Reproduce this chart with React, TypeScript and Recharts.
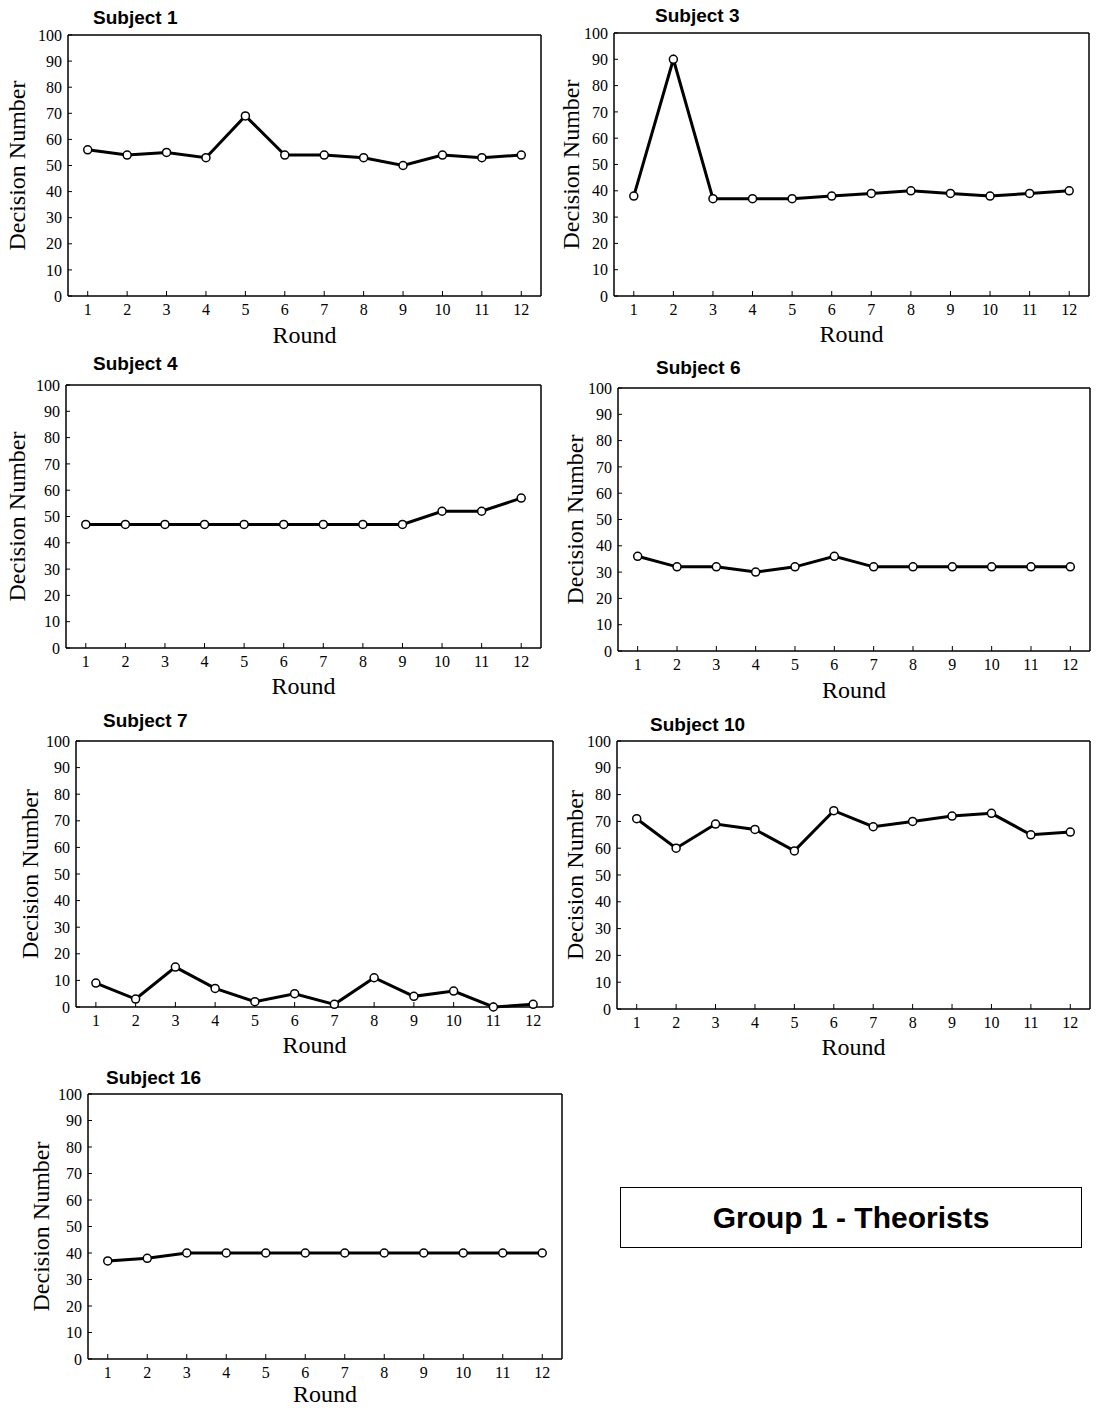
import { LineChart, Line, XAxis, YAxis, ReferenceLine, Label } from 'recharts'

const rounds = [1, 2, 3, 4, 5, 6, 7, 8, 9, 10, 11, 12]
const yTicks = [0, 10, 20, 30, 40, 50, 60, 70, 80, 90, 100]

const subject1 = [56, 54, 55, 53, 69, 54, 54, 53, 50, 54, 53, 54]
const subject3 = [38, 90, 37, 37, 37, 38, 39, 40, 39, 38, 39, 40]
const subject4 = [47, 47, 47, 47, 47, 47, 47, 47, 47, 52, 52, 57]
const subject6 = [36, 32, 32, 30, 32, 36, 32, 32, 32, 32, 32, 32]
const subject7 = [9, 3, 15, 7, 2, 5, 1, 11, 4, 6, 0, 1]
const subject10 = [71, 60, 69, 67, 59, 74, 68, 70, 72, 73, 65, 66]
const subject16 = [37, 38, 40, 40, 40, 40, 40, 40, 40, 40, 40, 40]

const serif = '"Liberation Serif", "Times New Roman", serif'
const sans = '"Liberation Sans", Arial, sans-serif'

// plot box = [left, top, right, bottom] in page pixels
const panels = [
  { title: 'Subject 1', values: subject1, box: [68, 35, 541, 296], titleAt: [93, 18], labelX: 17, roundDy: 39 },
  { title: 'Subject 3', values: subject3, box: [614, 33, 1089, 296], titleAt: [655, 16], labelX: 571, roundDy: 38 },
  { title: 'Subject 4', values: subject4, box: [66, 385, 541, 648], titleAt: [93, 364], labelX: 17, roundDy: 38 },
  { title: 'Subject 6', values: subject6, box: [618, 388, 1090, 651], titleAt: [656, 368], labelX: 575, roundDy: 39 },
  { title: 'Subject 7', values: subject7, box: [76, 741, 553, 1007], titleAt: [103, 721], labelX: 30, roundDy: 38 },
  { title: 'Subject 10', values: subject10, box: [617, 741, 1090, 1009], titleAt: [650, 725], labelX: 575, roundDy: 38 },
  { title: 'Subject 16', values: subject16, box: [88, 1094, 562, 1359], titleAt: [106, 1078], labelX: 41, roundDy: 35 },
]

const ML = 70, MT = 45, MR = 15, MB = 65

function Panel({ title, values, box, titleAt, labelX, roundDy }: any) {
  const [l, t, r, b] = box
  const w = r - l + ML + MR
  const h = b - t + MT + MB
  const left = l - ML
  const top = t - MT
  const data = rounds.map((round, i) => ({ round, value: values[i] }))
  const cy = MT + (b - t) / 2
  const lx = labelX - left
  return (
    <>
      <div style={{ position: 'absolute', left: titleAt[0], top: titleAt[1] - 12, fontFamily: sans, fontWeight: 700, fontSize: 19, lineHeight: '24px', color: '#000' }}>{title}</div>
      <div style={{ position: 'absolute', left, top }}>
        <LineChart width={w} height={h} data={data} margin={{ top: MT, right: MR, left: 20, bottom: 35 }}>
          <XAxis type="number" dataKey="round" domain={[0.5, 12.5]} ticks={rounds} interval={0} height={30}
            axisLine={{ stroke: '#000', strokeWidth: 1.5 }} tickLine={{ stroke: '#000' }} tickSize={-5} tickMargin={13}
            tick={{ fill: '#000', fontSize: 16, fontFamily: serif }}>
            <Label content={() => (
              <text x={ML + (r - l) / 2} y={MT + (b - t) + roundDy} textAnchor="middle" dominantBaseline="central"
                fontFamily={serif} fontSize={24} fill="#000">Round</text>
            )} />
          </XAxis>
          <YAxis type="number" domain={[0, 100]} ticks={yTicks} interval={0} width={50}
            axisLine={{ stroke: '#000', strokeWidth: 1.5 }} tickLine={{ stroke: '#000' }} tickSize={-4} tickMargin={10}
            tick={{ fill: '#000', fontSize: 16, fontFamily: serif }}>
            <Label content={() => (
              <text x={lx} y={cy} transform={`rotate(-90 ${lx} ${cy})`} textAnchor="middle" dominantBaseline="central"
                fontFamily={serif} fontSize={24} fill="#000">Decision Number</text>
            )} />
          </YAxis>
          <ReferenceLine y={100} stroke="#000" strokeWidth={1.5} />
          <ReferenceLine x={12.5} stroke="#000" strokeWidth={1.5} />
          <Line type="linear" dataKey="value" stroke="#000" strokeWidth={3} isAnimationActive={false}
            dot={{ r: 4, stroke: '#000', strokeWidth: 1.5, fill: '#fff' }} activeDot={false} />
        </LineChart>
      </div>
    </>
  )
}

export default function App() {
  return (
    <div style={{ position: 'absolute', left: 0, top: 0, width: 1100, height: 1408, overflow: 'hidden', background: '#fff' }}>
      {panels.map(p => <Panel key={p.title} {...p} />)}
      <div style={{ position: 'absolute', left: 620, top: 1187, width: 462, height: 61, boxSizing: 'border-box', border: '1.5px solid #000',
        display: 'flex', alignItems: 'center', justifyContent: 'center', fontFamily: sans, fontWeight: 700, fontSize: 30, color: '#000' }}>
        Group 1 - Theorists
      </div>
    </div>
  )
}
